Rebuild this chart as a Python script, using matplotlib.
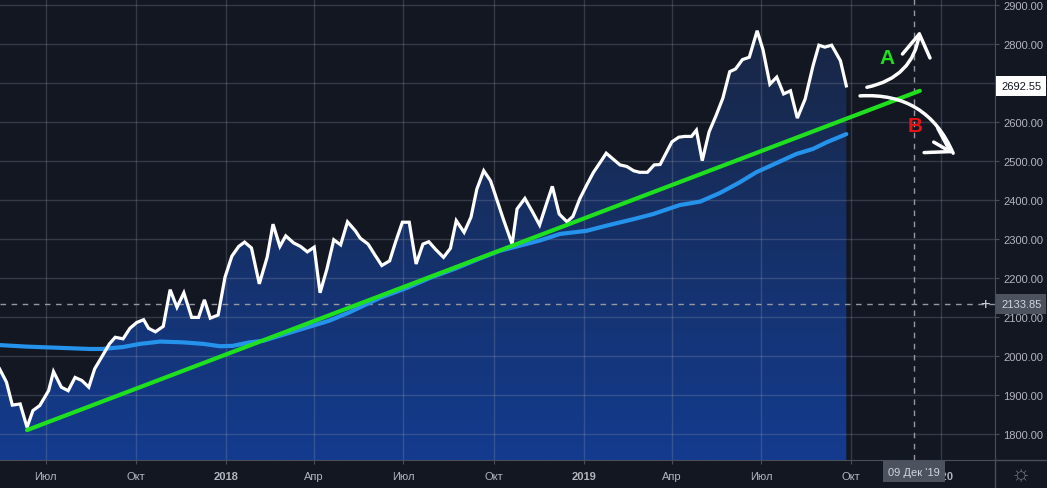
import numpy as np
import pandas as pd
import matplotlib
matplotlib.use("Agg")
import matplotlib.pyplot as plt
import matplotlib.dates as mdates
import matplotlib.transforms as mtransforms
from matplotlib.colors import LinearSegmentedColormap
from matplotlib.lines import Line2D

plt.rcParams['font.family'] = ['Liberation Sans', 'DejaVu Sans']

# weekly closes
price_dates = [
    "2017-05-15", "2017-05-22", "2017-05-28", "2017-06-05", "2017-06-12", "2017-06-18", "2017-06-25", "2017-07-04", "2017-07-09", "2017-07-17",
    "2017-07-24", "2017-07-31", "2017-08-07", "2017-08-14", "2017-08-20", "2017-08-29", "2017-09-04", "2017-09-10", "2017-09-18", "2017-09-25",
    "2017-10-02", "2017-10-09", "2017-10-14", "2017-10-21", "2017-10-29", "2017-11-05", "2017-11-12", "2017-11-19", "2017-11-27", "2017-12-04",
    "2017-12-10", "2017-12-16", "2017-12-24", "2017-12-31", "2018-01-07", "2018-01-14", "2018-01-20", "2018-01-27", "2018-02-04", "2018-02-12",
    "2018-02-18", "2018-02-25", "2018-03-03", "2018-03-11", "2018-03-18", "2018-03-25", "2018-04-01", "2018-04-07", "2018-04-14", "2018-04-21",
    "2018-04-28", "2018-05-05", "2018-05-13", "2018-05-18", "2018-05-26", "2018-06-02", "2018-06-09", "2018-06-17", "2018-06-23", "2018-06-30",
    "2018-07-07", "2018-07-14", "2018-07-21", "2018-07-27", "2018-08-03", "2018-08-11", "2018-08-18", "2018-08-24", "2018-09-01", "2018-09-08",
    "2018-09-14", "2018-09-21", "2018-09-28", "2018-10-04", "2018-10-11", "2018-10-20", "2018-10-25", "2018-11-02", "2018-11-09", "2018-11-17",
    "2018-11-24", "2018-11-30", "2018-12-07", "2018-12-15", "2018-12-21", "2018-12-28", "2019-01-04", "2019-01-11", "2019-01-18", "2019-01-24",
    "2019-01-31", "2019-02-07", "2019-02-14", "2019-02-21", "2019-02-27", "2019-03-07", "2019-03-14", "2019-03-20", "2019-03-26", "2019-04-01",
    "2019-04-08", "2019-04-14", "2019-04-21", "2019-04-26", "2019-05-02", "2019-05-09", "2019-05-16", "2019-05-23", "2019-05-30", "2019-06-05",
    "2019-06-12", "2019-06-19", "2019-06-27", "2019-07-03", "2019-07-10", "2019-07-17", "2019-07-24", "2019-07-31", "2019-08-07", "2019-08-15",
    "2019-08-23", "2019-08-29", "2019-09-04", "2019-09-11", "2019-09-20", "2019-09-26",
]
price_values = [
    1967, 1933, 1874, 1877, 1817, 1860, 1873, 1911, 1960, 1920,
    1911, 1945, 1937, 1920, 1967, 2005, 2031, 2048, 2044, 2071,
    2086, 2093, 2071, 2062, 2076, 2170, 2125, 2162, 2099, 2099,
    2144, 2097, 2105, 2202, 2256, 2281, 2292, 2277, 2185, 2253,
    2338, 2281, 2308, 2290, 2281, 2267, 2279, 2162, 2223, 2298,
    2285, 2344, 2321, 2302, 2287, 2259, 2232, 2244, 2292, 2343,
    2343, 2236, 2287, 2293, 2273, 2253, 2276, 2347, 2317, 2356,
    2428, 2475, 2449, 2404, 2351, 2287, 2377, 2404, 2373, 2336,
    2390, 2435, 2364, 2344, 2358, 2403, 2438, 2471, 2497, 2520,
    2505, 2490, 2486, 2475, 2471, 2471, 2490, 2491, 2520, 2549,
    2561, 2563, 2563, 2579, 2501, 2575, 2616, 2661, 2729, 2736,
    2760, 2766, 2834, 2785, 2697, 2715, 2672, 2680, 2610, 2659,
    2744, 2797, 2792, 2797, 2757, 2692.55,
]

# moving average (blue)
ma_dates = [
    "2017-05-15", "2017-06-12", "2017-07-04", "2017-08-15", "2017-08-28", "2017-09-18", "2017-10-05", "2017-10-26", "2017-11-18", "2017-12-09",
    "2017-12-26", "2018-01-08", "2018-01-25", "2018-02-08", "2018-02-25", "2018-03-14", "2018-03-31", "2018-04-17", "2018-05-07", "2018-06-07",
    "2018-07-04", "2018-07-28", "2018-08-23", "2018-09-17", "2018-10-08", "2018-10-28", "2018-11-17", "2018-12-08", "2019-01-04", "2019-01-24",
    "2019-02-21", "2019-03-13", "2019-04-09", "2019-04-30", "2019-05-20", "2019-06-09", "2019-06-26", "2019-07-17", "2019-08-06", "2019-08-23",
    "2019-09-06", "2019-09-26",
]
ma_values = [
    2028, 2024, 2022, 2018, 2018, 2023, 2031, 2037, 2035, 2031,
    2025, 2026, 2035, 2039, 2052, 2065, 2078, 2091, 2112, 2149,
    2174, 2200, 2224, 2250, 2270, 2283, 2296, 2313, 2321, 2334,
    2351, 2364, 2387, 2396, 2418, 2445, 2471, 2495, 2518, 2531,
    2548, 2569,
]

# trend line (green)
trend_dates = ["2017-06-12", "2019-12-10"]
trend_values = [1810, 2680]

tick_dates = ["2017-07-01", "2017-10-01", "2018-01-01", "2018-04-01", "2018-07-01", "2018-10-01",
              "2019-01-01", "2019-04-01", "2019-07-01", "2019-10-01", "2020-01-01"]
tick_labels = ["Июл", "Окт", "2018", "Апр", "Июл", "Окт", "2019", "Апр", "Июл", "Окт", "2020"]
y_ticks = list(range(1800, 2901, 100))

last_price = 2692.55
cross_price = 2133.85
cross_pos = "2019-12-04"   # where the crosshair sits on this (calendar) axis
cross_label = "09 Дек '19"

BG = "#131722"
TXT = "#b2b5be"
AXIS = "#4a4e5a"


def dn(s):
    return mdates.date2num(pd.to_datetime(s).to_pydatetime())


px = dn(price_dates)
mx = dn(ma_dates)
tx = dn(trend_dates)
x_left = dn("2017-05-15 10:00")
x_right = dn("2020-02-24 17:00")
y_low, y_high = 1733.3, 2915.4

fig = plt.figure(figsize=(10.47, 4.89), dpi=100, facecolor=BG)
ax = fig.add_axes([0, 28 / 489, 995 / 1047, 461 / 489])
ax.set_facecolor(BG)

# gradient area under the price line
poly = ax.fill_between(px, price_values, y_low, color="none", lw=0)
cmap = LinearSegmentedColormap.from_list("area", ["#19253f", "#133b8e"])
grad = np.linspace(0, 1, 256).reshape(-1, 1)
im = ax.imshow(grad, cmap=cmap, aspect="auto", origin="upper",
               extent=[x_left, x_right, y_low, y_high], zorder=1)
im.set_clip_path(poly.get_paths()[0], transform=ax.transData)

ax.plot(mx, ma_values, color="#2593ec", lw=3, zorder=3, solid_capstyle="round")
ax.plot(px, price_values, color="white", lw=2.3, zorder=4, solid_joinstyle="miter")
ax.plot(tx, trend_values, color="#1fe01f", lw=3, zorder=5, solid_capstyle="round")

# crosshair
ax.axhline(cross_price, color="#9598a1", lw=1, ls=(0, (4, 4)), zorder=2)
ax.axvline(dn(cross_pos), color="#9598a1", lw=1, ls=(0, (4, 4)), zorder=2)

# hand-drawn scenario arrows
head = "->,head_length=0.8,head_width=0.5"
ax.annotate("", xy=(dn("2019-12-10"), 2834), xytext=(dn("2019-10-17"), 2689),
            arrowprops=dict(arrowstyle=head, color="white", lw=2.5,
                            connectionstyle="arc3,rad=0.35", shrinkA=0, shrinkB=0, mutation_scale=20),
            zorder=6)
b_tip = (dn("2020-01-13"), 2520)
ax.annotate("", xy=b_tip, xytext=(dn("2019-10-10"), 2667),
            arrowprops=dict(arrowstyle="-", color="white", lw=2.5, capstyle="round",
                            connectionstyle="arc3,rad=-0.35", shrinkA=0, shrinkB=0),
            zorder=6)
ax.annotate("", xy=b_tip, xytext=(-14, 8), textcoords="offset points",
            arrowprops=dict(arrowstyle=head, color="white", lw=2.5,
                            shrinkA=0, shrinkB=0, mutation_scale=20),
            zorder=6)
ax.text(dn("2019-11-07"), 2766, "A", color="#1fe01f", fontsize=15, fontweight="bold",
        ha="center", va="center", zorder=7)
ax.text(dn("2019-12-05"), 2590, "B", color="#e51414", fontsize=15, fontweight="bold",
        ha="center", va="center", zorder=7)

ax.set_xlim(x_left, x_right)
ax.set_ylim(y_low, y_high)

ax.set_xticks(dn(tick_dates))
ax.set_xticklabels(tick_labels)
for lab in ax.get_xticklabels():
    if lab.get_text().isdigit():
        lab.set_fontweight("bold")
        lab.set_color("#d1d4dc")
ax.yaxis.tick_right()
ax.set_yticks(y_ticks)
# the 2700 label sits under the last-price marker, so leave it blank
ax.set_yticklabels(["" if v == 2700 else f"{v:.2f}" for v in y_ticks])
ax.tick_params(axis="x", labelsize=8, labelcolor=TXT, color=AXIS, length=3, pad=5)
ax.tick_params(axis="y", labelsize=8, labelcolor=TXT, color=AXIS, length=3, pad=3)

ax.grid(True, color="#9aa0b4", alpha=0.25, lw=1)
ax.set_axisbelow("line")
for side in ["top", "left"]:
    ax.spines[side].set_visible(False)
for side in ["right", "bottom"]:
    ax.spines[side].set_color(AXIS)

# price-scale labels
blend = mtransforms.blended_transform_factory(ax.transAxes, ax.transData)
ax.text(1.006, last_price, f"{last_price:.2f}", transform=blend, ha="left", va="center",
        fontsize=8, color="#131722", clip_on=False, zorder=8,
        bbox=dict(boxstyle="square,pad=0.45", fc="white", ec="none"))
ax.text(1.006, cross_price, f"{cross_price:.2f}", transform=blend, ha="left", va="center",
        fontsize=8, color="#d1d4dc", clip_on=False, zorder=8,
        bbox=dict(boxstyle="square,pad=0.45", fc="#4c525e", ec="none"))
ax.text(0.99, cross_price, "+", transform=blend, ha="center", va="center",
        fontsize=12, color="#d1d4dc", zorder=8)
ax.annotate(cross_label, xy=(dn(cross_pos), 0), xycoords=("data", "axes fraction"),
            xytext=(0, -8.5), textcoords="offset points", ha="center", va="center",
            fontsize=8, color="#d1d4dc", annotation_clip=False, zorder=8,
            bbox=dict(boxstyle="square,pad=0.5", fc="#4c525e", ec="none"))

# panel separators and settings icon
fig.add_artist(Line2D([995 / 1047, 1], [28 / 489, 28 / 489], color=AXIS, lw=1))
fig.add_artist(Line2D([995 / 1047, 995 / 1047], [0, 28 / 489], color=AXIS, lw=1))
fig.text(1021 / 1047, 14 / 489, "☼", fontsize=16, color="#787b86", ha="center", va="center")

fig.savefig("out.png", dpi=100, facecolor=BG)
